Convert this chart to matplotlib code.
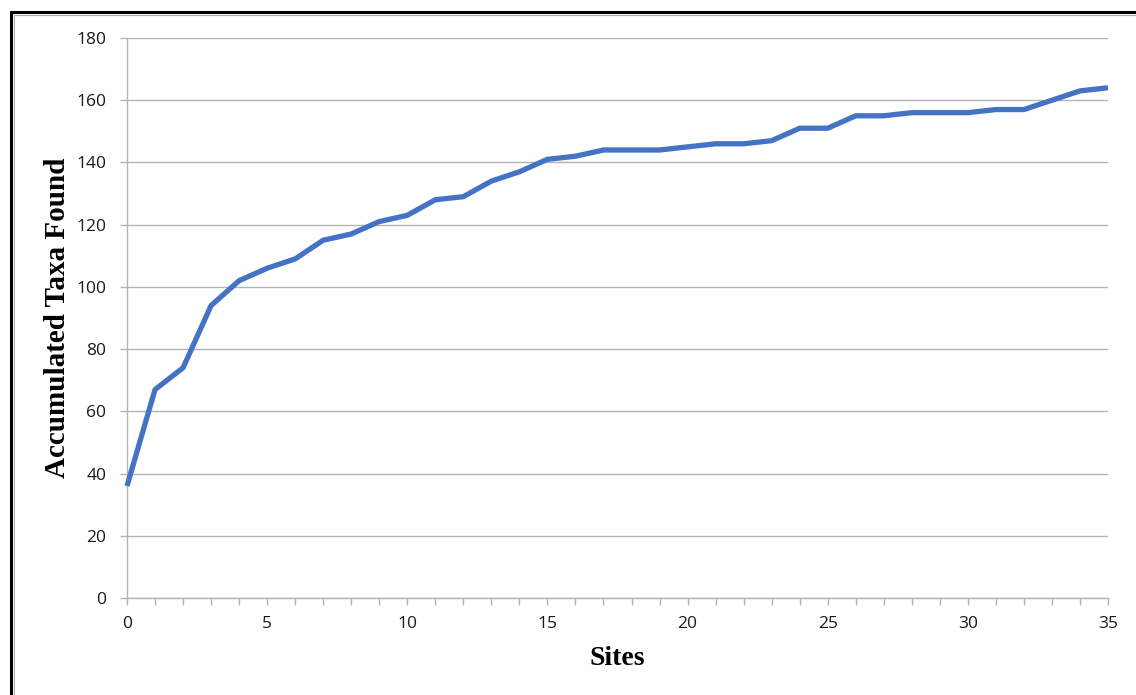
import matplotlib
matplotlib.use("Agg")
import matplotlib.pyplot as plt
from matplotlib.patches import Rectangle
from matplotlib.ticker import MultipleLocator

# accumulated taxa per site
sites = list(range(36))
taxa = [36, 67, 74, 94, 102, 106, 109, 115, 117, 121,
        123, 128, 129, 134, 137, 141, 142, 144, 144, 144,
        145, 146, 146, 147, 151, 151, 155, 155, 156, 156,
        156, 157, 157, 160, 163, 164]
y_ticks = [0, 20, 40, 60, 80, 100, 120, 140, 160, 180]
x_ticks = [0, 5, 10, 15, 20, 25, 30, 35]

W, H = 1136, 695
fig = plt.figure(figsize=(W / 100, H / 100), dpi=100)
ax = fig.add_axes([127 / W, 1 - 598 / H, (1108 - 127) / W, (598 - 38) / H])

ax.plot(sites, taxa, color="#4472C4", linewidth=3.8, solid_joinstyle="round",
        solid_capstyle="butt", zorder=3, clip_on=False)

ax.set_xlim(0, 35)
ax.set_ylim(0, 180)
ax.set_xticks(x_ticks)
ax.xaxis.set_minor_locator(MultipleLocator(1))
ax.set_yticks(y_ticks)

grid_col = "#b3b3b3"
ax.grid(axis="y", color=grid_col, linewidth=1.0)
ax.set_axisbelow(True)
for side in ["top", "right"]:
    ax.spines[side].set_visible(False)
for side in ["left", "bottom"]:
    ax.spines[side].set_color(grid_col)
    ax.spines[side].set_linewidth(1.0)

ax.tick_params(axis="x", which="both", direction="out", length=5, width=1,
               color=grid_col, pad=8, labelsize=12.5)
ax.tick_params(axis="y", which="both", direction="out", length=5, width=1,
               color=grid_col, pad=10, labelsize=12.5)
for lab in ax.get_xticklabels() + ax.get_yticklabels():
    lab.set_fontfamily("Open Sans")
    lab.set_color("#1a1a1a")

ax.set_xlabel("Sites", fontfamily="Liberation Serif", fontweight="bold",
              fontsize=20, labelpad=10)
ax.set_ylabel("Accumulated Taxa Found", fontfamily="Liberation Serif",
              fontweight="bold", fontsize=21, labelpad=4)

# frame around the chart, cut off on the right and bottom
fig.patches.append(Rectangle((11 / W, -0.1), 1.2, 1 - 12 / H + 0.1,
                             transform=fig.transFigure, fill=False,
                             edgecolor="black", linewidth=2.2))
fig.patches.append(Rectangle((14 / W, -0.1), 1.2, 1 - 15 / H + 0.1,
                             transform=fig.transFigure, fill=False,
                             edgecolor="#aaaaaa", linewidth=0.8))

fig.savefig("out.png", dpi=100)
